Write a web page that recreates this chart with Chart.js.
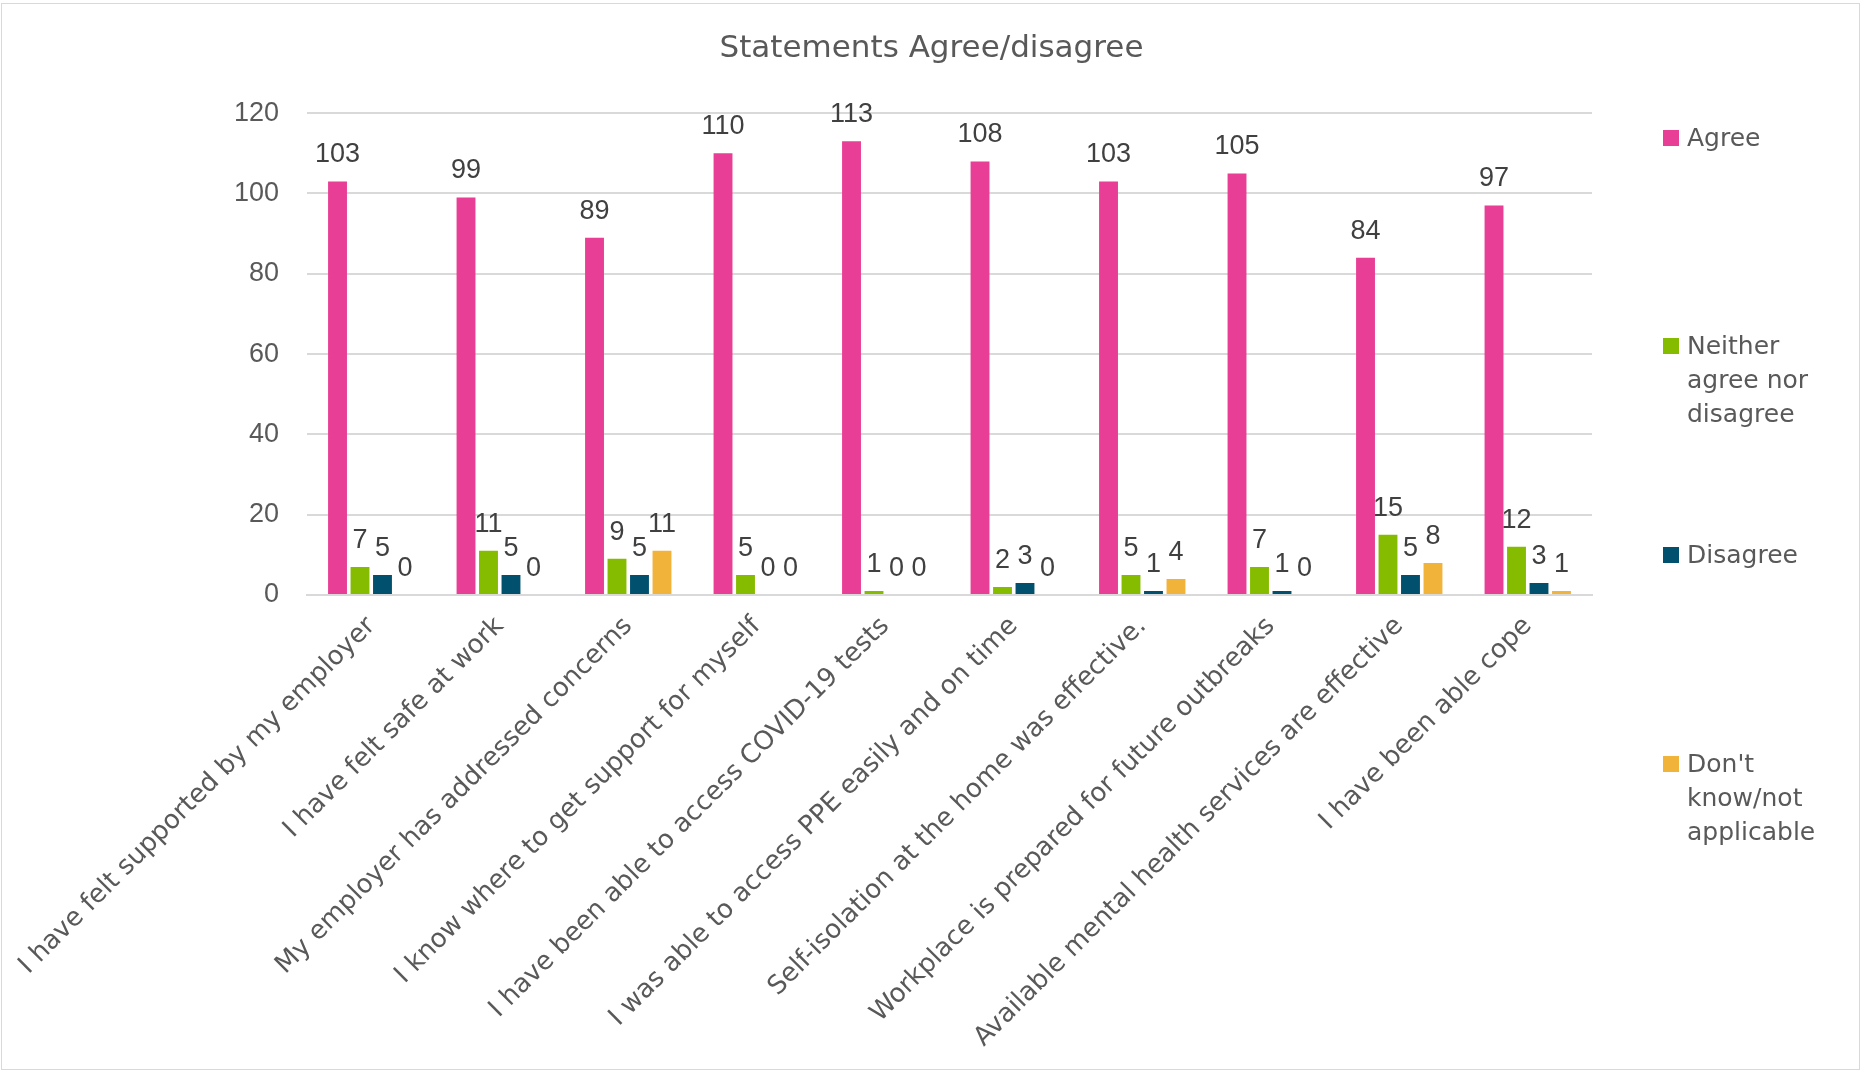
<!DOCTYPE html>
<html>
<head>
<meta charset="utf-8">
<title>Statements Agree/disagree</title>
<script src="https://cdn.jsdelivr.net/npm/chart.js@4/dist/chart.umd.min.js"></script>
<style>
  body { margin: 0; background: #fff; }
</style>
</head>
<body>
<canvas id="myChart" width="1863" height="1072"></canvas>
<script>
const statements = [
  'I have felt supported by my employer',
  'I have felt safe at work',
  'My employer has addressed concerns',
  'I know where to get support for myself',
  'I have been able to access COVID-19 tests',
  'I was able to access PPE easily and on time',
  'Self-isolation at the home was effective.',
  'Workplace is prepared for future outbreaks',
  'Available mental health services are effective',
  'I have been able cope'
];

const agree    = [103, 99, 89, 110, 113, 108, 103, 105, 84, 97];
const neither  = [7, 11, 9, 5, 1, 2, 5, 7, 15, 12];
const disagree = [5, 5, 5, 0, 0, 3, 1, 1, 5, 3];
const dontKnow = [0, 0, 11, 0, 0, 0, 4, 0, 8, 1];

const yTicks = [0, 20, 40, 60, 80, 100, 120];

// legend text broken over lines the way it sits beside the chart
const legendLines = [
  ['Agree'],
  ['Neither', 'agree nor', 'disagree'],
  ['Disagree'],
  ["Don't", 'know/not', 'applicable']
];

const numberFont = '"Liberation Sans", Arial, sans-serif';
const textFont = '"DejaVu Sans", Verdana, sans-serif';

// thin grey frame round the whole chart
const frame = {
  id: 'frame',
  beforeDraw(chart) {
    const c = chart.ctx;
    c.save();
    c.fillStyle = '#fff';
    c.fillRect(0, 0, chart.width, chart.height);
    c.strokeStyle = '#d9d9d9';
    c.lineWidth = 1;
    c.strokeRect(1.5, 3.5, chart.width - 5, chart.height - 6);
    c.restore();
  }
};

// value above every bar, zeros included
const barValues = {
  id: 'barValues',
  afterDatasetsDraw(chart) {
    const c = chart.ctx;
    c.save();
    c.font = '27px ' + numberFont;
    c.fillStyle = '#404040';
    c.textAlign = 'center';
    c.textBaseline = 'bottom';
    chart.data.datasets.forEach((ds, i) => {
      chart.getDatasetMeta(i).data.forEach((bar, j) => {
        c.fillText(ds.data[j], bar.x, bar.y - 13);
      });
    });
    c.restore();
  }
};

// legend on the right with wrapped labels
const sideLegend = {
  id: 'sideLegend',
  afterDraw(chart) {
    const c = chart.ctx;
    const x = 1663;
    const rows = [138, 346, 555, 764];
    c.save();
    c.font = '25px ' + textFont;
    c.textBaseline = 'middle';
    chart.data.datasets.forEach((ds, i) => {
      const y = rows[i];
      c.fillStyle = ds.backgroundColor;
      c.fillRect(x, y - 8, 16, 16);
      c.fillStyle = '#595959';
      legendLines[i].forEach((line, k) => {
        c.fillText(line, x + 24, y + 1 + k * 34);
      });
    });
    c.restore();
  }
};

const ctx = document.getElementById('myChart').getContext('2d');

const myChart = new Chart(ctx, {
  type: 'bar',
  data: {
    labels: statements,
    datasets: [
      { label: 'Agree', data: agree, backgroundColor: '#e83e96' },
      { label: 'Neither agree nor disagree', data: neither, backgroundColor: '#86bc00' },
      { label: 'Disagree', data: disagree, backgroundColor: '#00506e' },
      { label: "Don't know/not applicable", data: dontKnow, backgroundColor: '#f2b33b' }
    ]
  },
  options: {
    responsive: false,
    animation: false,
    layout: { padding: 0 },
    datasets: {
      bar: { categoryPercentage: 0.7, barPercentage: 0.84 }
    },
    plugins: {
      legend: { display: false },
      tooltip: { enabled: false },
      title: {
        display: true,
        text: 'Statements Agree/disagree',
        color: '#595959',
        font: { family: textFont, size: 31, weight: 'normal' },
        padding: { top: 30, bottom: 46 }
      }
    },
    scales: {
      x: {
        grid: { display: false, drawTicks: false },
        border: { display: true, color: '#d9d9d9', width: 2 },
        ticks: {
          autoSkip: false,
          minRotation: 45,
          maxRotation: 45,
          padding: 16,
          color: '#595959',
          font: { family: textFont, size: 26 }
        },
        afterFit(scale) {
          scale.height = 477;
          scale.paddingLeft = 0;
          scale.paddingRight = 0;
        }
      },
      y: {
        min: 0,
        max: 120,
        afterBuildTicks(scale) { scale.ticks = yTicks.map(v => ({ value: v })); },
        grid: { color: '#d9d9d9', lineWidth: 2, drawTicks: false },
        border: { display: false },
        ticks: {
          padding: 28,
          color: '#595959',
          font: { family: numberFont, size: 27 }
        },
        afterFit(scale) { scale.width = 307; }
      },
      // empty axis on the right that keeps room for the legend
      legendSpace: {
        type: 'linear',
        position: 'right',
        grid: { display: false, drawTicks: false },
        border: { display: false },
        ticks: { display: false },
        afterFit(scale) { scale.width = 271; }
      }
    }
  },
  plugins: [frame, barValues, sideLegend]
});
</script>
</body>
</html>
